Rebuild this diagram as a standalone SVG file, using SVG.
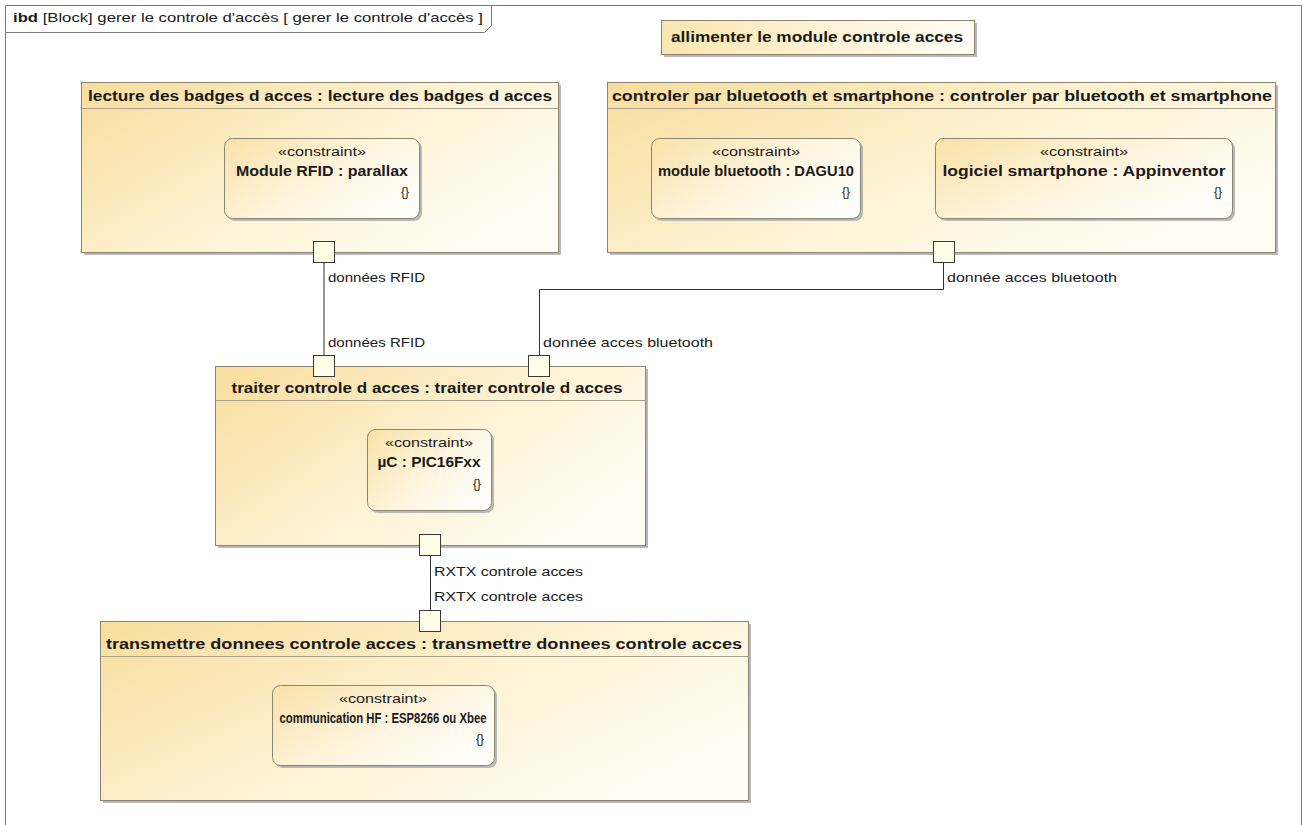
<svg xmlns="http://www.w3.org/2000/svg" width="1303" height="825" viewBox="0 0 1303 825">
<defs>
<linearGradient id="gBlock" x1="0" y1="0" x2="1" y2="0.6">
<stop offset="0" stop-color="#f8dd9c"/>
<stop offset="0.55" stop-color="#fdf1d0"/>
<stop offset="1" stop-color="#fffcf3"/>
</linearGradient>
<linearGradient id="gBox" x1="0" y1="0" x2="1" y2="0.6">
<stop offset="0" stop-color="#f9e2a8"/>
<stop offset="0.6" stop-color="#fef5df"/>
<stop offset="1" stop-color="#fffdf8"/>
</linearGradient>
<linearGradient id="gNote" x1="0" y1="0" x2="1" y2="0">
<stop offset="0" stop-color="#fae6b0"/>
<stop offset="1" stop-color="#fffdf5"/>
</linearGradient>
</defs>
<style>
text{font-family:"Liberation Sans",Arial,sans-serif;fill:#1a1a1a}
.t{font-size:14px;font-weight:bold;text-anchor:middle}
.lbl{font-size:13px}
.st{font-size:12.5px;text-anchor:middle}
.nm{font-size:14px;font-weight:bold;text-anchor:middle}
.br{font-size:13px;text-anchor:end}
.blk{fill:url(#gBlock);stroke:#8a8470;stroke-width:1}
.box{fill:url(#gBox);stroke:#8a8470;stroke-width:1}
.sh{fill:#b8b8b8}
.hd{stroke:#a8a08a;stroke-width:1}
.port{fill:#fffde6;stroke:#3a3a3a;stroke-width:1}
.con{fill:none;stroke:#333;stroke-width:1}
</style>
<rect width="1303" height="825" fill="#ffffff"/>
<g id="frame">
<path d="M5.5,825 V5.5 H1301.5 V825" fill="none" stroke="#7a7a7a"/>
<path d="M5.5,32.5 H484.5 L491.5,25.5 V5.5" fill="none" stroke="#7a7a7a"/>
<text x="13" y="22" style="font-size:13px" textLength="470" lengthAdjust="spacingAndGlyphs"><tspan font-weight="bold">ibd</tspan> [Block] gerer le controle d'accès [ gerer le controle d'accès ]</text>
</g>
<g id="note-alimenter">
<rect class="sh" x="664" y="23" width="313" height="34"/>
<rect x="661.5" y="20.5" width="313" height="34" fill="url(#gNote)" stroke="#8a8470"/>
<text class="t" x="817" y="42" textLength="292" lengthAdjust="spacingAndGlyphs">allimenter le module controle acces</text>
</g>
<g id="connectors">
<path class="con" d="M324,263 V355"/>
<path class="con" d="M943.5,263 V289.5 H539.5 V355"/>
<path class="con" d="M430.5,556 V610"/>
<text class="lbl" x="328" y="282" textLength="97" lengthAdjust="spacingAndGlyphs">données RFID</text>
<text class="lbl" x="328" y="347" textLength="97" lengthAdjust="spacingAndGlyphs">données RFID</text>
<text class="lbl" x="947" y="282" textLength="170" lengthAdjust="spacingAndGlyphs">donnée acces bluetooth</text>
<text class="lbl" x="543" y="347" textLength="170" lengthAdjust="spacingAndGlyphs">donnée acces bluetooth</text>
<text class="lbl" x="434" y="576" textLength="149" lengthAdjust="spacingAndGlyphs">RXTX controle acces</text>
<text class="lbl" x="434" y="601" textLength="149" lengthAdjust="spacingAndGlyphs">RXTX controle acces</text>
</g>
<g id="lecture">
<rect class="sh" x="84" y="85" width="477" height="170"/>
<rect class="blk" x="81.5" y="82.5" width="477" height="170"/>
<line class="hd" x1="81.5" y1="108.5" x2="558.5" y2="108.5"/>
<text class="t" x="320" y="101" textLength="464" lengthAdjust="spacingAndGlyphs">lecture des badges d acces : lecture des badges d acces</text>
<rect class="sh" x="227" y="141" width="195" height="80" rx="8"/>
<rect class="box" x="224.5" y="138.5" width="195" height="80" rx="8"/>
<text class="st" x="322" y="156" textLength="88" lengthAdjust="spacingAndGlyphs">«constraint»</text>
<text class="nm" x="322" y="176" textLength="172" lengthAdjust="spacingAndGlyphs">Module RFID : parallax</text>
<text class="br" x="409" y="196" textLength="8" lengthAdjust="spacingAndGlyphs">{}</text>
<rect class="port" x="313.5" y="241.5" width="21" height="21"/>
</g>
<g id="controler">
<rect class="sh" x="610" y="85" width="668" height="170"/>
<rect class="blk" x="607.5" y="82.5" width="668" height="170"/>
<line class="hd" x1="607.5" y1="108.5" x2="1275.5" y2="108.5"/>
<text class="t" x="942" y="101" textLength="660" lengthAdjust="spacingAndGlyphs">controler par bluetooth et smartphone : controler par bluetooth et smartphone</text>
<rect class="sh" x="654" y="141" width="209" height="80" rx="8"/>
<rect class="box" x="651.5" y="138.5" width="209" height="80" rx="8"/>
<text class="st" x="756" y="156" textLength="88" lengthAdjust="spacingAndGlyphs">«constraint»</text>
<text class="nm" x="756" y="176" textLength="196" lengthAdjust="spacingAndGlyphs">module bluetooth : DAGU10</text>
<text class="br" x="850" y="196" textLength="8" lengthAdjust="spacingAndGlyphs">{}</text>
<rect class="sh" x="938" y="141" width="297" height="80" rx="8"/>
<rect class="box" x="935.5" y="138.5" width="297" height="80" rx="8"/>
<text class="st" x="1084" y="156" textLength="88" lengthAdjust="spacingAndGlyphs">«constraint»</text>
<text class="nm" x="1084" y="176" textLength="283" lengthAdjust="spacingAndGlyphs">logiciel smartphone : Appinventor</text>
<text class="br" x="1222" y="196" textLength="8" lengthAdjust="spacingAndGlyphs">{}</text>
<rect class="port" x="933.5" y="241.5" width="21" height="21"/>
</g>
<g id="traiter">
<rect class="sh" x="218" y="369" width="430" height="179"/>
<rect class="blk" x="215.5" y="366.5" width="430" height="179"/>
<line class="hd" x1="215.5" y1="400.5" x2="645.5" y2="400.5"/>
<text class="t" x="427" y="393" textLength="391" lengthAdjust="spacingAndGlyphs">traiter controle d acces : traiter controle d acces</text>
<rect class="sh" x="370" y="432" width="124" height="81" rx="8"/>
<rect class="box" x="367.5" y="429.5" width="124" height="81" rx="8"/>
<text class="st" x="429" y="447" textLength="88" lengthAdjust="spacingAndGlyphs">«constraint»</text>
<text class="nm" x="429" y="467" textLength="103" lengthAdjust="spacingAndGlyphs">µC : PIC16Fxx</text>
<text class="br" x="481" y="488" textLength="8" lengthAdjust="spacingAndGlyphs">{}</text>
<rect class="port" x="313.5" y="355.5" width="21" height="21"/>
<rect class="port" x="528.5" y="355.5" width="21" height="21"/>
<rect class="port" x="419.5" y="534.5" width="21" height="21"/>
</g>
<g id="transmettre">
<rect class="sh" x="103" y="624" width="648" height="179"/>
<rect class="blk" x="100.5" y="621.5" width="648" height="179"/>
<line class="hd" x1="100.5" y1="656.5" x2="748.5" y2="656.5"/>
<text class="t" x="424" y="649" textLength="636" lengthAdjust="spacingAndGlyphs">transmettre donnees controle acces : transmettre donnees controle acces</text>
<rect class="sh" x="275" y="688" width="222" height="80" rx="8"/>
<rect class="box" x="272.5" y="685.5" width="222" height="80" rx="8"/>
<text class="st" x="383" y="703" textLength="88" lengthAdjust="spacingAndGlyphs">«constraint»</text>
<text class="nm" x="383" y="723" textLength="207" lengthAdjust="spacingAndGlyphs">communication HF : ESP8266 ou Xbee</text>
<text class="br" x="484" y="743" textLength="8" lengthAdjust="spacingAndGlyphs">{}</text>
<rect class="port" x="419.5" y="610.5" width="21" height="21"/>
</g>
</svg>
